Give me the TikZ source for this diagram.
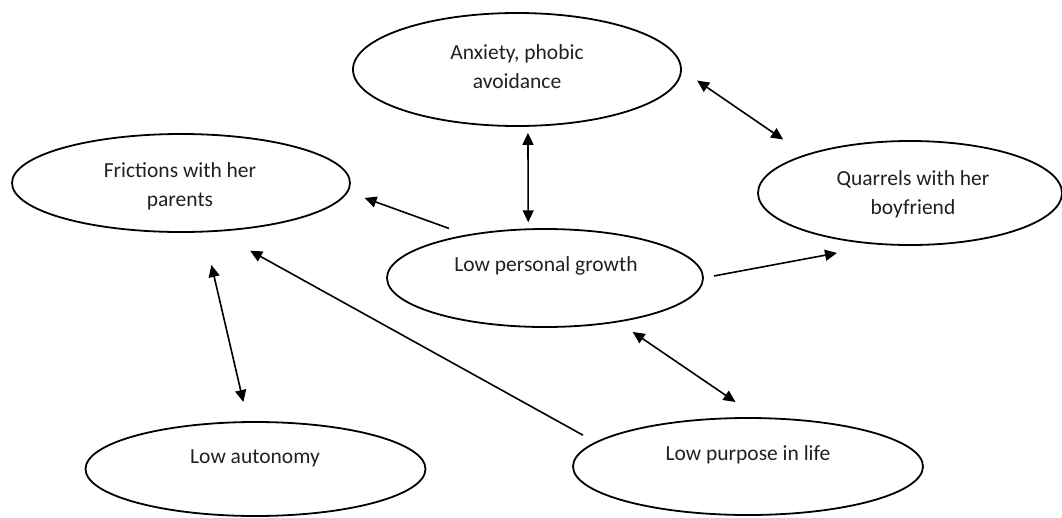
\documentclass[tikz,border=0pt]{standalone}
\usepackage{fontspec}
\setmainfont{Carlito}
\usetikzlibrary{arrows.meta,shapes.geometric}
\begin{document}
\begin{tikzpicture}[x=1pt,y=-1pt,
  ell/.style={draw, ellipse, line width=1.8pt, inner sep=0pt, outer sep=0pt},
  txt/.style={anchor=base, font=\fontsize{21.5}{29}\selectfont, inner sep=0pt, text={rgb,255:red,35;green,31;blue,32}},
  arr/.style={line width=1.6pt, -{Triangle[length=12pt,width=11pt]}},
  dbl/.style={line width=1.6pt, {Triangle[length=12pt,width=11pt]}-{Triangle[length=12pt,width=11pt]}}]
\useasboundingbox (0,0) rectangle (1062,517);
% ellipses
\node[ell, minimum width=328pt, minimum height=113pt] (anx) at (517,69.5) {};
\node[ell, minimum width=338pt, minimum height=98pt] (fri) at (181,183) {};
\node[ell, minimum width=304pt, minimum height=104pt] (qua) at (910,193) {};
\node[ell, minimum width=316pt, minimum height=98pt] (lpg) at (545,278) {};
\node[ell, minimum width=340pt, minimum height=94pt] (aut) at (255.5,469) {};
\node[ell, minimum width=350pt, minimum height=97pt] (pur) at (748,466.5) {};
% texts
\node[txt] (anxA) at (517,59) {Anxiety, phobic};
\node[txt] (anxB) at (517,88) {avoidance};
\node[txt] (friA) at (180,177) {Frictions with her};
\node[txt] (friB) at (180,206) {parents};
\node[txt] (quaA) at (913,185) {Quarrels with her};
\node[txt] (quaB) at (913,214) {boyfriend};
\node[txt] (lpgA) at (546,271) {Low personal growth};
\node[txt] (autA) at (255,463) {Low autonomy};
\node[txt] (purA) at (748,460) {Low purpose in life};
% connectors
\draw[dbl, shorten <=7pt, shorten >=7pt] (anx.-79) -- (lpg.109.2);
\draw[dbl, shorten <=19.5pt, shorten >=27.5pt] (anx.-0.5) -- (qua.160.4);
\draw[arr, shorten <=20.1pt, shorten >=18.3pt] (lpg.151.75) -- (fri.-3.8);
\draw[arr, shorten <=11.2pt, shorten >=47.7pt] (lpg.0) -- (qua.-117.9);
\draw[dbl, shorten <=18.4pt, shorten >=28.6pt] (lpg.-31.3) -- (pur.77.5);
\draw[dbl, shorten <=34.3pt, shorten >=20.6pt] (fri.-65.45) -- (aut.99.4);
\draw[arr, shorten <=15.1pt, shorten >=40.6pt] (pur.171.9) -- (fri.-55);
\end{tikzpicture}
\end{document}
